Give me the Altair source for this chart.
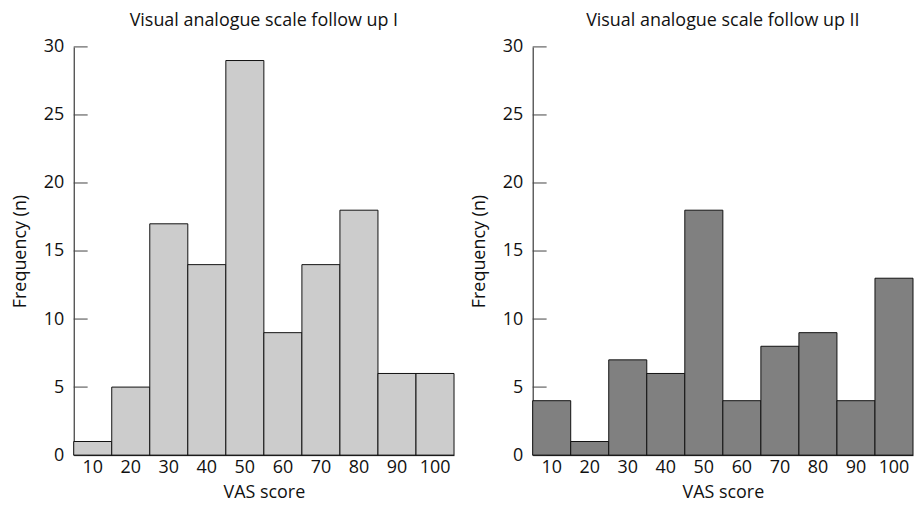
import altair as alt
import pandas as pd

scores = [10, 20, 30, 40, 50, 60, 70, 80, 90, 100]
freq_fu1 = [1, 5, 17, 14, 29, 9, 14, 18, 6, 6]
freq_fu2 = [4, 1, 7, 6, 18, 4, 8, 9, 4, 13]
y_ticks = [0, 5, 10, 15, 20, 25, 30]
titles = ["Visual analogue scale follow up I", "Visual analogue scale follow up II"]
fills = ["#cccccc", "#808080"]

FONT = "Open Sans"


def panel(freq, fill, title):
    df = pd.DataFrame({"score": scores, "freq": freq})
    tdf = pd.DataFrame({"v": y_ticks})
    ticks = alt.Chart(tdf).mark_rule(color="#444444", strokeWidth=1).encode(
        y=alt.Y("v:Q"), x=alt.value(0), x2=alt.value(14)
    )
    bars = alt.Chart(df).mark_bar(fill=fill, stroke="#111111", strokeWidth=1).encode(
        x=alt.X(
            "score:O",
            sort=scores,
            scale=alt.Scale(paddingInner=0, paddingOuter=0),
            axis=alt.Axis(title="VAS score", labelAngle=0, ticks=False, labelPadding=3,
                          titlePadding=8),
        ),
        y=alt.Y(
            "freq:Q",
            scale=alt.Scale(domain=[0, 30], nice=False),
            axis=alt.Axis(title="Frequency (n)", values=y_ticks, ticks=False, grid=False,
                          labelPadding=10, titlePadding=14),
        ),
    )
    return alt.layer(ticks, bars).properties(
        width=382, height=410,
        title=alt.TitleParams(title, fontSize=18, fontWeight="normal", font=FONT,
                              anchor="middle", offset=8, color="#111111"),
    )


chart = alt.hconcat(
    panel(freq_fu1, fills[0], titles[0]),
    panel(freq_fu2, fills[1], titles[1]),
    spacing=15,
).properties(padding={"left": 3, "top": 3, "right": 0, "bottom": 0}).configure_view(
    stroke=None
).configure_axis(
    domainColor="#111111", domainWidth=1, labelFont=FONT, titleFont=FONT,
    labelFontSize=18, titleFontSize=18, labelColor="#111111", titleColor="#111111",
    titleFontWeight="normal",
)

chart.save("out.html", embed_options={"renderer": "svg", "actions": False})
